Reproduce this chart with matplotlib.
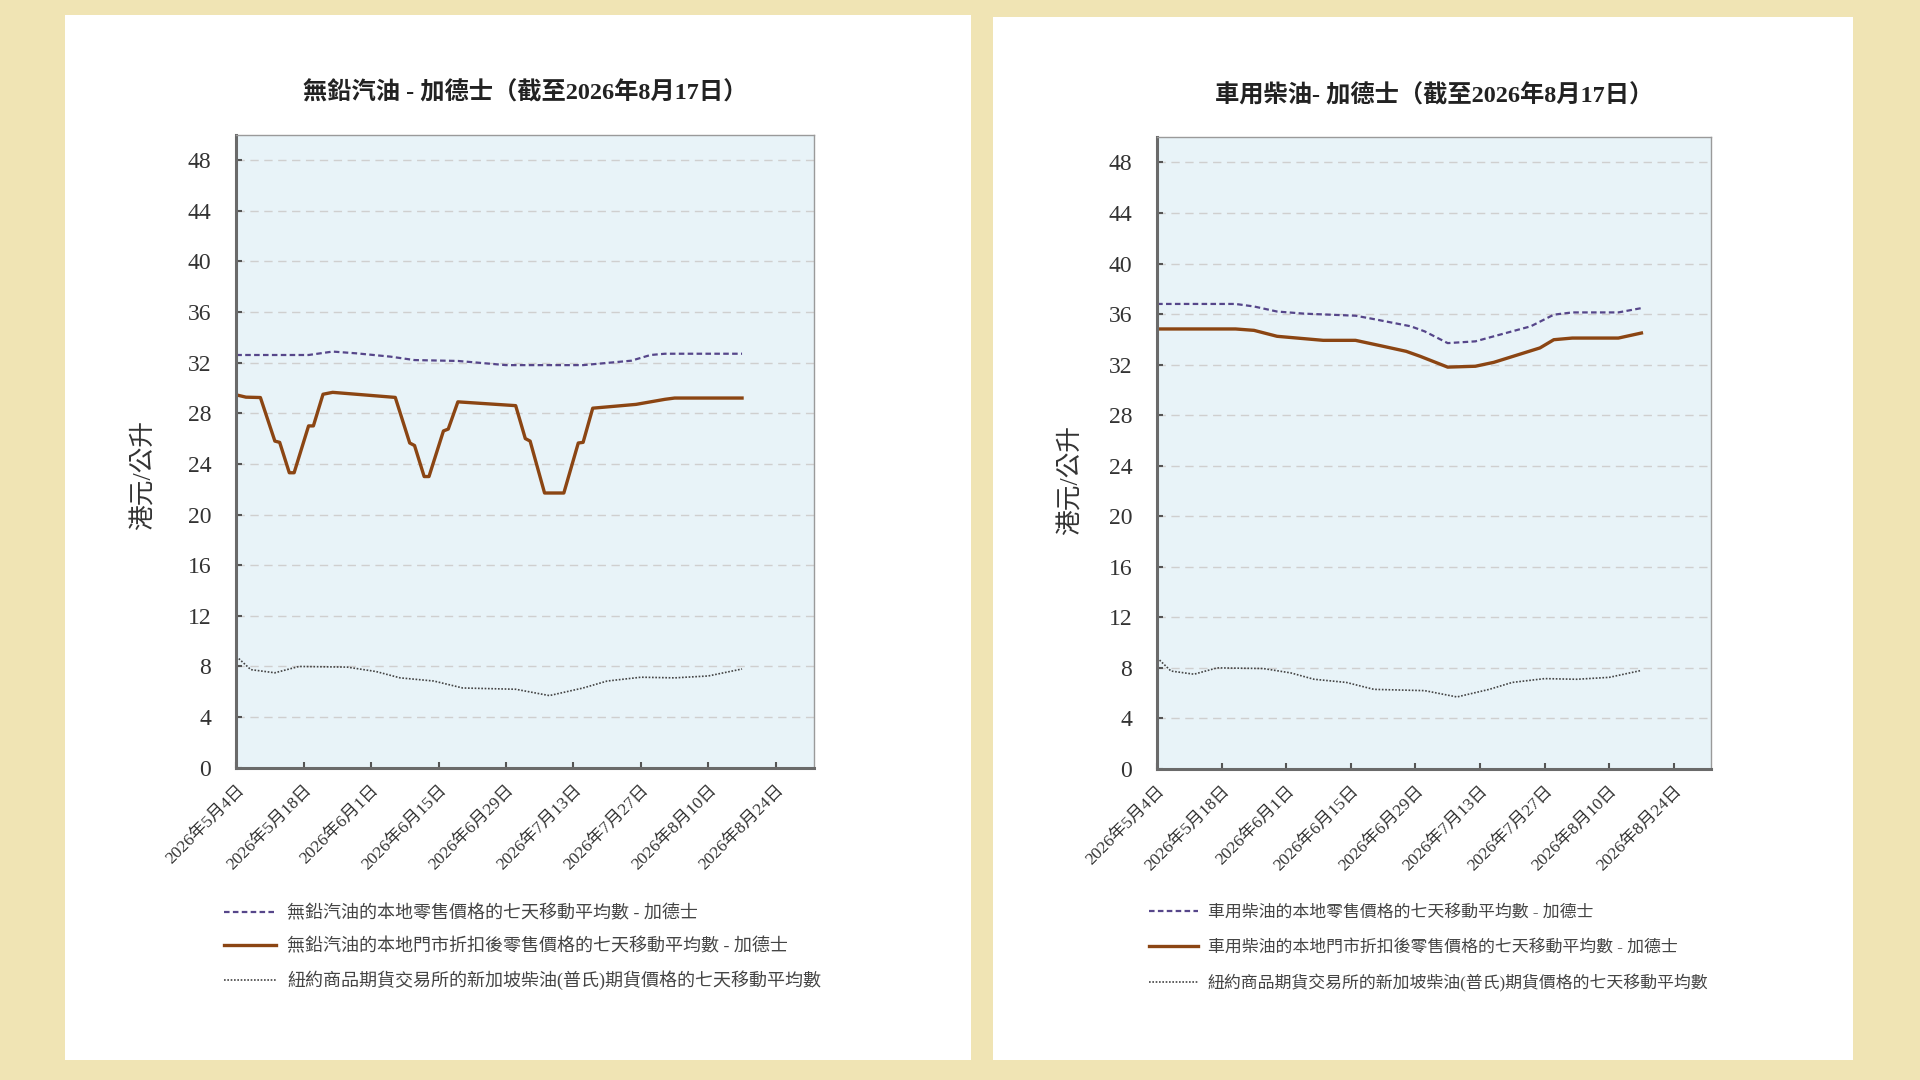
import matplotlib
matplotlib.use("Agg")
import matplotlib.pyplot as plt
import pandas as pd
from matplotlib.patches import Rectangle

FONTS = ['Liberation Serif', 'Noto Sans CJK TC']
plt.rcParams['font.family'] = FONTS

# axis ticks
tick_dates = ['2026-05-04', '2026-05-18', '2026-06-01', '2026-06-15', '2026-06-29',
              '2026-07-13', '2026-07-27', '2026-08-10', '2026-08-24']
tick_labels = ['2026年5月4日', '2026年5月18日', '2026年6月1日', '2026年6月15日', '2026年6月29日',
               '2026年7月13日', '2026年7月27日', '2026年8月10日', '2026年8月24日']
y_ticks = list(range(0, 49, 4))

# unleaded petrol - retail 7-day moving average
petrol_retail_dates = ['2026-05-04', '2026-05-19', '2026-05-24', '2026-05-29', '2026-06-05',
                       '2026-06-10', '2026-06-19', '2026-06-23', '2026-06-29', '2026-07-15',
                       '2026-07-25', '2026-07-29', '2026-08-01', '2026-08-17']
petrol_retail = [32.6, 32.6, 32.87, 32.73, 32.47, 32.2, 32.13, 32.0, 31.8, 31.8,
                 32.15, 32.6, 32.7, 32.7]

# unleaded petrol - after-discount retail
petrol_disc_dates = ['2026-05-04', '2026-05-06', '2026-05-09', '2026-05-12', '2026-05-13',
                     '2026-05-15', '2026-05-16', '2026-05-19', '2026-05-20', '2026-05-22',
                     '2026-05-24', '2026-06-06', '2026-06-09', '2026-06-10', '2026-06-12',
                     '2026-06-13', '2026-06-16', '2026-06-17', '2026-06-19', '2026-06-21',
                     '2026-07-01', '2026-07-03', '2026-07-04', '2026-07-07', '2026-07-11',
                     '2026-07-14', '2026-07-15', '2026-07-17', '2026-07-26', '2026-08-01',
                     '2026-08-03', '2026-08-17']
petrol_disc = [29.45, 29.27, 29.24, 25.8, 25.7, 23.3, 23.3, 27.0, 27.0, 29.5,
               29.65, 29.25, 25.65, 25.45, 23.0, 23.0, 26.6, 26.75, 28.9, 28.85,
               28.6, 26.0, 25.8, 21.7, 21.7, 25.65, 25.7, 28.4, 28.7, 29.1,
               29.2, 29.2]

# diesel - retail 7-day moving average
diesel_retail_dates = ['2026-05-04', '2026-05-21', '2026-05-25', '2026-05-30', '2026-06-05',
                       '2026-06-16', '2026-06-20', '2026-06-28', '2026-07-01', '2026-07-06',
                       '2026-07-12', '2026-07-16', '2026-07-24', '2026-07-29', '2026-08-02',
                       '2026-08-12', '2026-08-17']
diesel_retail = [36.8, 36.8, 36.6, 36.2, 36.03, 35.87, 35.6, 35.03, 34.63, 33.7,
                 33.84, 34.24, 35.03, 35.95, 36.13, 36.13, 36.47]

# diesel - after-discount retail
diesel_disc_dates = ['2026-05-04', '2026-05-21', '2026-05-25', '2026-05-30', '2026-06-09',
                     '2026-06-16', '2026-06-22', '2026-06-27', '2026-06-30', '2026-07-06',
                     '2026-07-12', '2026-07-16', '2026-07-26', '2026-07-29', '2026-08-02',
                     '2026-08-12', '2026-08-17']
diesel_disc = [34.82, 34.82, 34.71, 34.24, 33.92, 33.92, 33.45, 33.05, 32.66, 31.8,
               31.87, 32.18, 33.32, 33.97, 34.1, 34.1, 34.5]

# NYMEX Singapore gasoil (Platts) futures 7-day moving average
gasoil_dates = ['2026-05-04', '2026-05-07', '2026-05-12', '2026-05-17', '2026-05-27',
                '2026-06-02', '2026-06-07', '2026-06-14', '2026-06-20', '2026-07-01',
                '2026-07-08', '2026-07-15', '2026-07-20', '2026-07-27', '2026-08-03',
                '2026-08-10', '2026-08-17']
gasoil = [8.8, 7.75, 7.5, 8.0, 7.95, 7.6, 7.1, 6.85, 6.3, 6.2,
          5.7, 6.3, 6.85, 7.15, 7.1, 7.25, 7.8]

titles = ['無鉛汽油 - 加德士（截至2026年8月17日）', '車用柴油- 加德士（截至2026年8月17日）']
legend_left = ['無鉛汽油的本地零售價格的七天移動平均數 - 加德士',
               '無鉛汽油的本地門市折扣後零售價格的七天移動平均數 - 加德士',
               '紐約商品期貨交易所的新加坡柴油(普氏)期貨價格的七天移動平均數']
legend_right = ['車用柴油的本地零售價格的七天移動平均數 - 加德士',
                '車用柴油的本地門市折扣後零售價格的七天移動平均數 - 加德士',
                '紐約商品期貨交易所的新加坡柴油(普氏)期貨價格的七天移動平均數']
y_label = '港元/公升'

W, H = 1568, 882
fig = plt.figure(figsize=(19.2, 10.8), dpi=100, facecolor='#F0E4B4')

# white panels
for x0, y0, x1, y1 in [(53, 12, 793, 866), (811, 14, 1513, 866)]:
    fig.patches.append(Rectangle((x0 / W, 1 - y1 / H), (x1 - x0) / W, (y1 - y0) / H,
                                 transform=fig.transFigure, facecolor='white',
                                 edgecolor='none', zorder=-5))


def draw_panel(rect, title, retail_d, retail, disc_d, disc, labels, leg_pos, leg_size,
               leg_gap, ylab_xy):
    ax = fig.add_axes(rect)
    ax.set_zorder(2)
    ax.set_facecolor('#E8F3F8')
    l1, = ax.plot(pd.to_datetime(retail_d), retail, color='#56468A', lw=1.6,
                  linestyle=(0, (2.5, 1.5)))
    l2, = ax.plot(pd.to_datetime(disc_d), disc, color='#8B4513', lw=2.4)
    l3, = ax.plot(pd.to_datetime(gasoil_dates), gasoil, color='#444444', lw=1.2,
                  linestyle=(0, (1, 1)))

    ax.set_ylim(0, 50)
    ax.set_yticks(y_ticks)
    ax.set_xlim(pd.Timestamp('2026-05-04'), pd.Timestamp('2026-09-01'))
    ax.set_xticks(pd.to_datetime(tick_dates))
    ax.set_xticklabels(tick_labels, rotation=45, ha='right', rotation_mode='anchor',
                       fontsize=12.5, color='#333333')
    for t in ax.get_yticklabels():
        t.set_fontsize(17)
        t.set_color('#333333')
    for y in y_ticks[1:]:
        ax.axhline(y, color='#CFCFCF', lw=1, linestyle=(0, (6, 4)), zorder=0.5)
    ax.tick_params(axis='both', direction='in', length=4, width=1.5, color='#555555')
    ax.tick_params(axis='y', pad=18)
    ax.tick_params(axis='x', pad=10)
    for s in ['left', 'bottom']:
        ax.spines[s].set_color('#6A6A6A')
        ax.spines[s].set_linewidth(2.2)
    for s in ['top', 'right']:
        ax.spines[s].set_color('#9A9A9A')
        ax.spines[s].set_linewidth(1)
    ax.set_ylabel(y_label, fontsize=18.5, color='#333333')
    ax.yaxis.set_label_coords(*ylab_xy)
    ax.set_title(title, fontsize=17.5, color='#222222', pad=25, fontweight='bold')
    ax.legend([l1, l2, l3], labels, loc='upper left', bbox_to_anchor=leg_pos,
              bbox_transform=fig.transFigure, frameon=False, fontsize=leg_size,
              handlelength=2.9, handletextpad=0.6, borderpad=0, borderaxespad=0,
              labelspacing=leg_gap, labelcolor='#444444')
    return ax


draw_panel([193 / W, 1 - 627 / H, (665 - 193) / W, (627 - 110) / H], titles[0],
           petrol_retail_dates, petrol_retail, petrol_disc_dates, petrol_disc,
           legend_left, (183 / W, 1 - 739 / H), 13, 0.86, (-0.14, 0.462))
draw_panel([945 / W, 1 - 628 / H, (1397 - 945) / W, (628 - 112) / H], titles[1],
           diesel_retail_dates, diesel_retail, diesel_disc_dates, diesel_disc,
           legend_right, (938 / W, 1 - 739 / H), 12.2, 1.1, (-0.135, 0.457))

fig.savefig('out.png', dpi=100, facecolor=fig.get_facecolor())
